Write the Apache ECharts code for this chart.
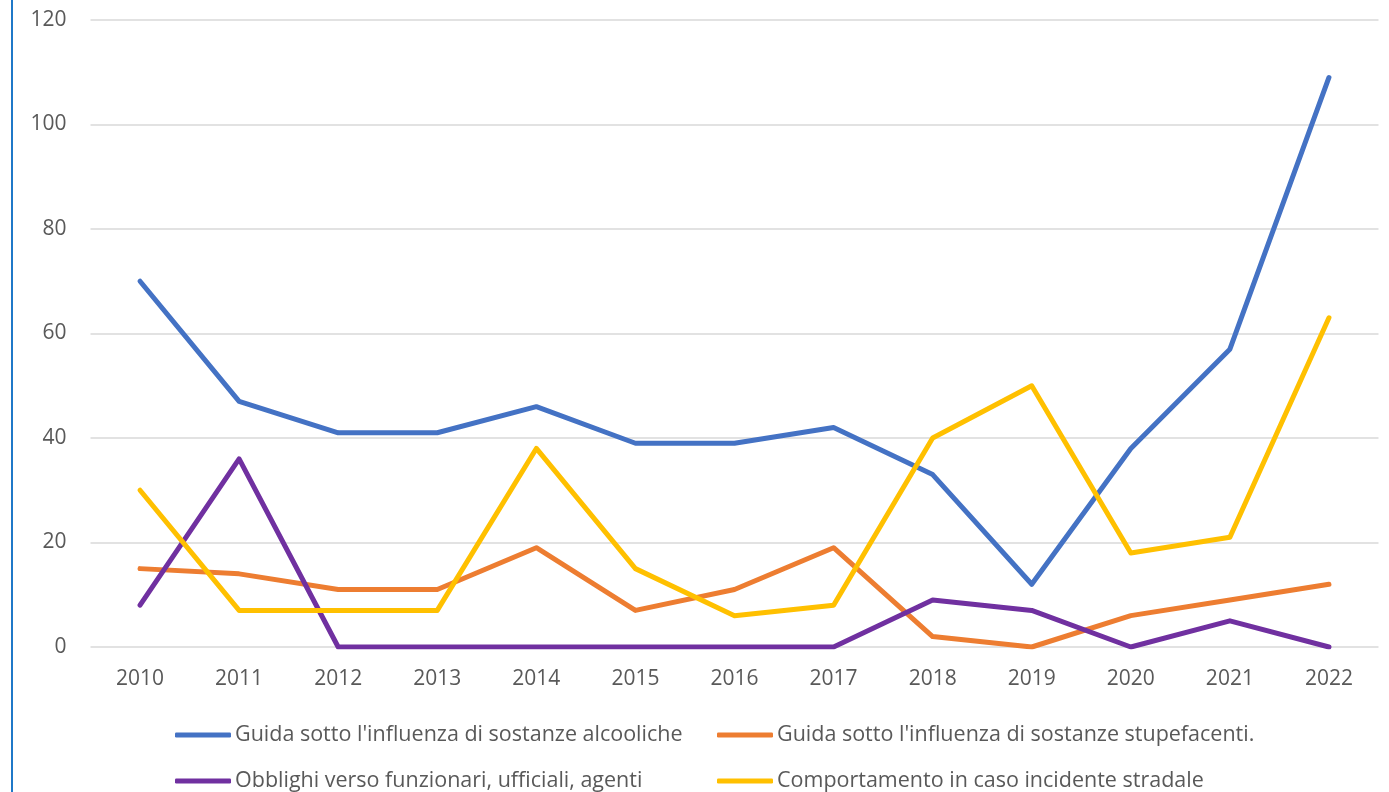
<!DOCTYPE html>
<html>
<head>
<meta charset="utf-8">
<script src="https://cdn.jsdelivr.net/npm/echarts@6/dist/echarts.min.js"></script>
<style>
  html, body { margin: 0; padding: 0; background: #fff; }
  #chart { width: 1389px; height: 792px; }
</style>
</head>
<body>
<div id="chart"></div>
<script>
// Anni di riferimento
const years = ['2010', '2011', '2012', '2013', '2014', '2015', '2016', '2017', '2018', '2019', '2020', '2021', '2022'];

// Numero di casi per tipologia
const alcool = [70, 47, 41, 41, 46, 39, 39, 42, 33, 12, 38, 57, 109];
const stupefacenti = [15, 14, 11, 11, 19, 7, 11, 19, 2, 0, 6, 9, 12];
const obblighi = [8, 36, 0, 0, 0, 0, 0, 0, 9, 7, 0, 5, 0];
const incidente = [30, 7, 7, 7, 38, 15, 6, 8, 40, 50, 18, 21, 63];

const seriesNames = [
  "Guida sotto l'influenza di sostanze alcooliche",
  "Guida sotto l'influenza di sostanze stupefacenti.",
  "Obblighi verso funzionari, ufficiali, agenti",
  "Comportamento in caso incidente stradale"
];
const seriesData = [alcool, stupefacenti, obblighi, incidente];
const colors = ['#4472C4', '#ED7D31', '#7030A0', '#FFC000'];

const fontFamily = '"Open Sans", "Noto Sans", sans-serif';
const textColor = '#595959';

// Una legenda per voce, disposte su due colonne
const legendPos = [
  { left: 175, top: 724 },
  { left: 717, top: 724 },
  { left: 175, top: 770 },
  { left: 717, top: 770 }
];
const legends = seriesNames.map((name, i) => ({
  data: [name],
  left: legendPos[i].left,
  top: legendPos[i].top,
  itemWidth: 56,
  itemHeight: 5,
  itemGap: 0,
  icon: 'roundRect',
  padding: 0,
  textStyle: {
    color: textColor, fontSize: 21.5, lineHeight: 22,
    fontFamily: fontFamily, padding: [0, 0, 0, -1]
  }
}));

const chart = echarts.init(document.getElementById('chart'), null, { renderer: 'canvas' });
chart.setOption({
  animation: false,
  backgroundColor: '#ffffff',
  color: colors,
  legend: legends,
  grid: { left: 90.5, right: 10.5, top: 20, bottom: 145, containLabel: false },
  xAxis: {
    type: 'category',
    data: years,
    boundaryGap: true,
    axisLine: { show: false },
    axisTick: { show: false },
    axisLabel: { color: textColor, fontSize: 21, fontFamily: fontFamily, margin: 22 }
  },
  yAxis: {
    type: 'value',
    min: 0,
    max: 120,
    interval: 20,
    axisLine: { show: false },
    axisTick: { show: false },
    splitLine: { lineStyle: { color: '#D9D9D9', width: 1.5 } },
    axisLabel: { color: textColor, fontSize: 21, fontFamily: fontFamily, margin: 24 }
  },
  series: seriesNames.map((name, i) => ({
    name: name,
    type: 'line',
    data: seriesData[i],
    symbol: 'none',
    lineStyle: { width: 5, color: colors[i], cap: 'round', join: 'round' },
    itemStyle: { color: colors[i] }
  })),
  graphic: [{
    type: 'line',
    shape: { x1: 12, y1: 0, x2: 12, y2: 792 },
    style: { stroke: '#1F78C8', lineWidth: 2 },
    silent: true
  }]
});
</script>
</body>
</html>
